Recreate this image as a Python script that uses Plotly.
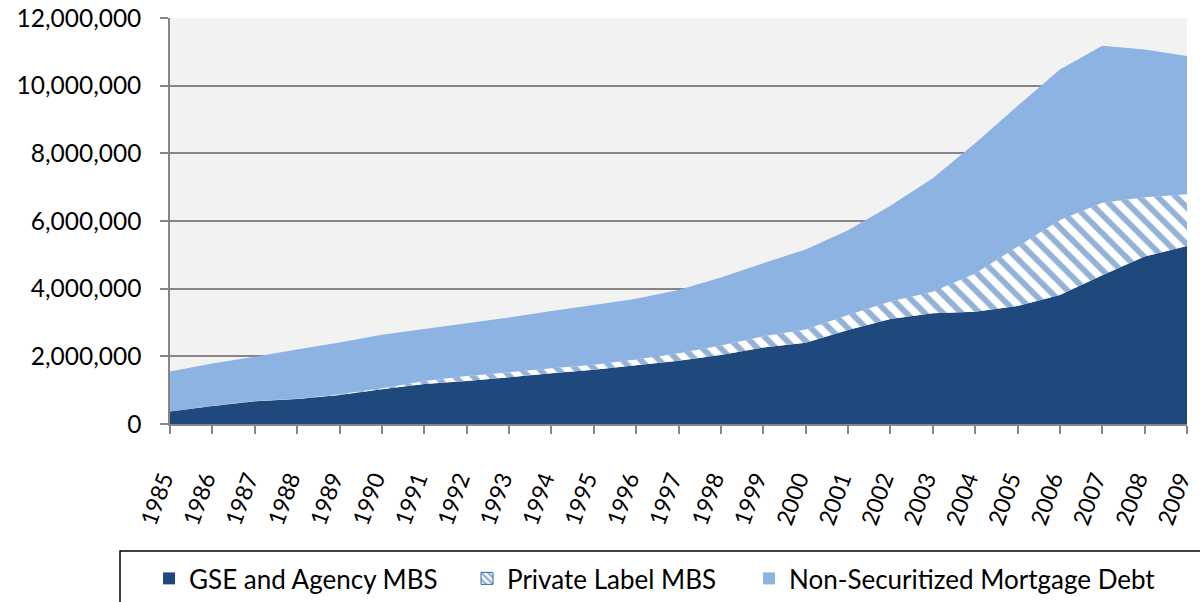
import plotly.graph_objects as go

years = list(range(1985, 2010))
gse_agency_mbs = [370000, 530000, 670000, 740000, 860000, 1030000, 1180000, 1270000, 1380000, 1500000,
                  1600000, 1740000, 1870000, 2040000, 2260000, 2400000, 2780000, 3100000, 3270000, 3320000,
                  3490000, 3810000, 4400000, 4950000, 5260000]
private_label_mbs = [0, 10000, 10000, 10000, 20000, 30000, 90000, 150000, 150000, 150000,
                     150000, 170000, 220000, 280000, 330000, 390000, 440000, 520000, 640000, 1130000,
                     1750000, 2220000, 2140000, 1750000, 1530000]
non_securitized = [1180000, 1250000, 1310000, 1450000, 1530000, 1580000, 1540000, 1560000, 1620000, 1690000,
                   1770000, 1790000, 1870000, 2010000, 2160000, 2370000, 2510000, 2830000, 3350000, 3850000,
                   4160000, 4450000, 4640000, 4370000, 4090000]
y_ticks = [0, 2000000, 4000000, 6000000, 8000000, 10000000, 12000000]
series_names = ["GSE and Agency MBS", "Private Label MBS", "Non-Securitized Mortgage Debt"]

FONT = "Lato"
C_GSE = "#1F497D"
C_PRIV = "#2A66B0"
C_NON = "#8DB3E2"
hatch = dict(shape="\\", fgcolor=C_PRIV, bgcolor="#FFFFFF", size=13, solidity=0.45)

fig = go.Figure()
fig.add_trace(go.Scatter(x=years, y=gse_agency_mbs, name=series_names[0], stackgroup="one",
                         mode="none", fillcolor=C_GSE, showlegend=False))
fig.add_trace(go.Scatter(x=years, y=private_label_mbs, name=series_names[1], stackgroup="one",
                         mode="none", fillcolor="#FFFFFF", fillpattern=hatch, showlegend=False))
fig.add_trace(go.Scatter(x=years, y=non_securitized, name=series_names[2], stackgroup="one",
                         mode="none", fillcolor=C_NON, showlegend=False))

# legend entries (square swatches), each in its own legend so they can be placed like the reference
fig.add_trace(go.Bar(x=[None], y=[None], name=series_names[0], legend="legend",
                     marker=dict(color=C_GSE, line=dict(width=0))))
fig.add_trace(go.Bar(x=[None], y=[None], name=series_names[1], legend="legend2",
                     marker=dict(color="#FFFFFF", pattern=dict(shape="\\", fgcolor=C_PRIV, bgcolor="#FFFFFF",
                                                               size=6, solidity=0.5),
                                 line=dict(color=C_PRIV, width=1))))
fig.add_trace(go.Bar(x=[None], y=[None], name=series_names[2], legend="legend3",
                     marker=dict(color=C_NON, line=dict(width=0))))

leg_common = dict(orientation="h", xref="container", yref="container", y=0.0781,
                  xanchor="left", yanchor="top", font=dict(size=26, family=FONT, color="black"),
                  bgcolor="rgba(0,0,0,0)", itemwidth=30)

fig.update_layout(
    width=1200, height=602,
    margin=dict(l=170, r=13, t=18, b=178, autoexpand=False),
    paper_bgcolor="white", plot_bgcolor="#F2F2F2",
    font=dict(family=FONT, size=25, color="black"),
    showlegend=True,
    legend=dict(x=0.1242, **leg_common),
    legend2=dict(x=0.3892, **leg_common),
    legend3=dict(x=0.6242, **leg_common),
    shapes=[dict(type="rect", xref="paper", yref="paper", x0=-0.04916, x1=1.03, y0=-0.3128, y1=-0.47,
                 line=dict(color="black", width=1.5), fillcolor="rgba(0,0,0,0)", layer="above")],
)
fig.update_xaxes(range=[1985, 2009], tickmode="array", tickvals=years, ticktext=[str(y) for y in years],
                 tickangle=-70, ticks="outside", ticklen=8, tickcolor="#868686", tickwidth=1.5,
                 showline=True, linecolor="#868686", linewidth=1.5, showgrid=False, zeroline=False,
                 tickfont=dict(size=23, family=FONT), automargin=False, ticklabelstandoff=23,
                 ticklabelshift=-7, ticklabeloverflow="allow")
fig.update_yaxes(range=[0, 12000000], tickvals=y_ticks, tickformat=",d", ticks="outside", ticklen=8,
                 tickcolor="#868686", tickwidth=1.5, showline=True, linecolor="#868686", linewidth=1.5,
                 showgrid=True, gridcolor="#868686", gridwidth=1.5, zeroline=False,
                 tickfont=dict(size=24.5, family=FONT), automargin=False, ticklabelstandoff=14,
                 ticklabeloverflow="allow", layer="below traces")
fig.write_html("out.html", config={"displayModeBar": False},
               post_script="document.body.style.margin='0';document.body.style.overflow='hidden';")
